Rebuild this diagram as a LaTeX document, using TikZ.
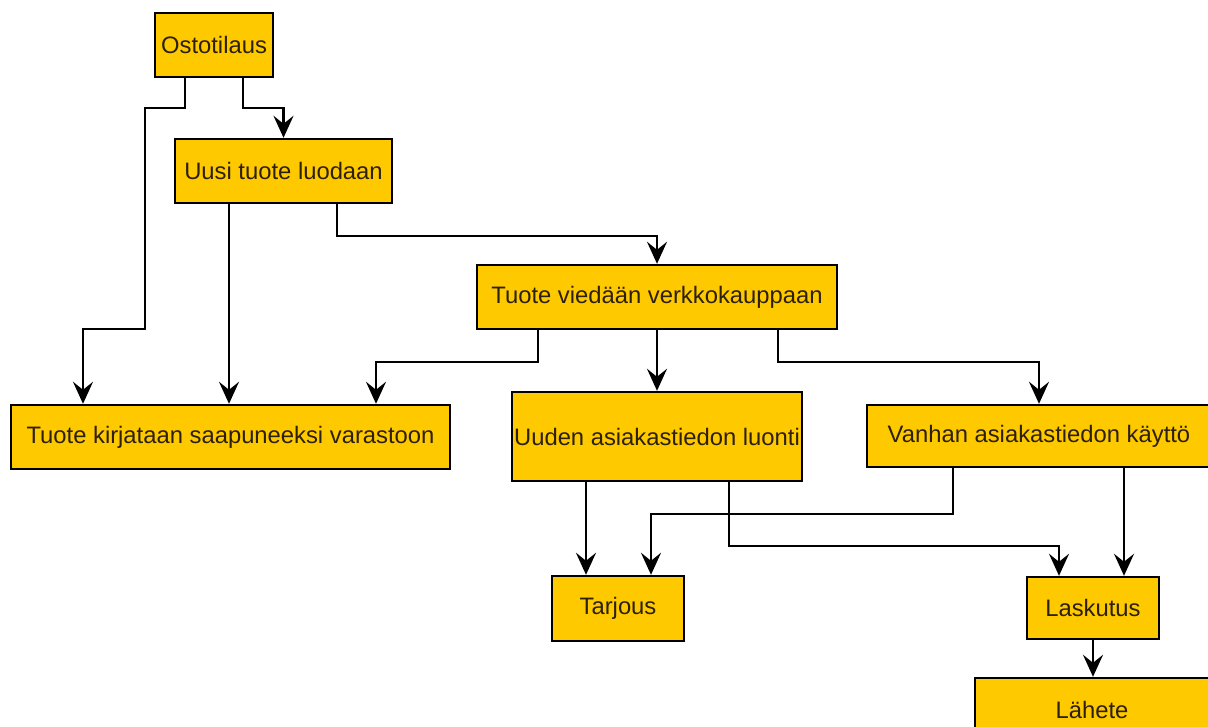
\documentclass[tikz,border=0pt]{standalone}
\usepackage{fontspec}
\setmainfont{Liberation Sans}
\usetikzlibrary{arrows.meta}
\definecolor{boxfill}{RGB}{255,201,0}
\definecolor{boxtext}{RGB}{45,32,8}
\tikzset{
  box/.style={draw=black, line width=2.4pt, fill=boxfill, text=boxtext,
    inner sep=0pt, font=\fontsize{23.8}{28}\selectfont},
  conn/.style={draw=black, line width=2.4pt,
    -{Stealth[length=22pt, width=20pt, inset=8pt]}}
}
\begin{document}
\begin{tikzpicture}[x=1pt, y=-1pt]
\useasboundingbox (0,0) rectangle (1208,727);
\clip (0,0) rectangle (1208,727);
\fill[white] (0,0) rectangle (1208,727);

\node[box, minimum width=118pt, minimum height=64pt] (ost) at (214,45) {Ostotilaus};
\node[box, minimum width=217pt, minimum height=64pt] (uusi) at (283.5,171) {Uusi tuote luodaan};
\node[box, minimum width=360pt, minimum height=64pt] (verkko) at (657,297) {Tuote viedään verkkokauppaan};
\node[box, minimum width=439pt, minimum height=64pt] (varasto) at (230.5,437) {Tuote kirjataan saapuneeksi varastoon};
\node[box, minimum width=290pt, minimum height=89pt] (uuden) at (657,436.5) {Uuden asiakastiedon luonti};
\node[box, minimum width=344pt, minimum height=62pt] (vanhan) at (1039,436) {Vanhan asiakastiedon käyttö};
\node[box, minimum width=132pt, minimum height=65pt] (tarjous) at (618,608.5) {Tarjous};
\node[box, minimum width=132pt, minimum height=62pt] (laskutus) at (1093,608) {Laskutus};
\node[box, minimum width=234pt, minimum height=64pt] (lahete) at (1092,710) {Lähete};

% Ostotilaus -> Uusi tuote luodaan
\draw[conn] ([xshift=29pt]ost.south) -- ++(0,30) -| (uusi.north);
% Ostotilaus -> varasto
\draw[conn] ([xshift=-29pt]ost.south) -- ++(0,30) -- ++(-40,0) -- ++(0,221) -| ([xshift=-147.5pt]varasto.north);
% Uusi -> varasto
\draw[conn] ([xshift=-54.5pt]uusi.south) -- ([xshift=-54.5pt]uusi.south |- varasto.north);
% Uusi -> verkko
\draw[conn] ([xshift=53.5pt]uusi.south) -- ++(0,32) -| (verkko.north);
% verkko -> varasto
\draw[conn] ([xshift=-119pt]verkko.south) -- ++(0,32) -| ([xshift=145.5pt]varasto.north);
% verkko -> uuden
\draw[conn] (verkko.south) -- (uuden.north);
% verkko -> vanhan
\draw[conn] ([xshift=121pt]verkko.south) -- ++(0,32) -| (vanhan.north);
% uuden -> tarjous
\draw[conn] ([xshift=-71pt]uuden.south) -- ([xshift=-71pt]uuden.south |- tarjous.north);
% vanhan -> tarjous
\draw[conn] ([xshift=-86pt]vanhan.south) -- ++(0,46) -| ([xshift=33pt]tarjous.north);
% uuden -> laskutus
\draw[conn] ([xshift=72pt]uuden.south) -- ++(0,64) -| ([xshift=-34pt]laskutus.north);
% vanhan -> laskutus
\draw[conn] ([xshift=85pt]vanhan.south) -- ([xshift=85pt]vanhan.south |- laskutus.north);
% laskutus -> lahete
\draw[conn] (laskutus.south) -- (laskutus.south |- lahete.north);
\end{tikzpicture}
\end{document}
